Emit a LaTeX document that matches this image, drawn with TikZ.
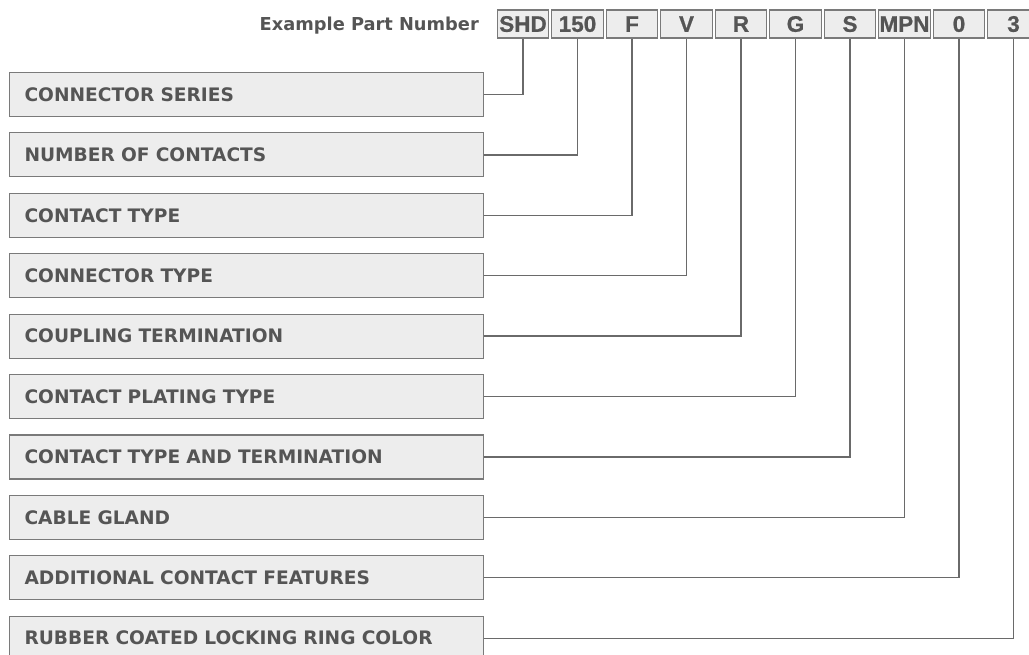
\documentclass[tikz,border=0pt]{standalone}
\usepackage{fontspec}
\setmainfont{DejaVu Sans}
\newfontfamily\codefont{Liberation Sans}[BoldFeatures={FakeBold=0.8}]
\definecolor{boxfill}{HTML}{EDEDED}
\definecolor{boxline}{HTML}{7A7A7A}
\definecolor{txt}{HTML}{555555}
\definecolor{wire}{HTML}{6A6A6A}
\tikzset{
  labelbox/.style={draw=boxline, line width=1.1pt, fill=boxfill, rectangle,
    minimum width=474pt, minimum height=44pt, text width=444pt, align=left,
    inner xsep=15pt, inner ysep=0pt, text height=13.5pt, text depth=0pt,
    font=\fontsize{18.6}{21}\selectfont\bfseries, text=txt, anchor=north west},
  codebox/.style={draw=boxline, line width=1.1pt, fill=boxfill, rectangle,
    minimum width=51.5pt, minimum height=28pt, inner sep=0pt,
    font=\codefont\fontsize{22.5}{24}\selectfont\bfseries, text=txt, anchor=north},
  wireline/.style={draw=wire, line width=1.3pt},
  header/.style={font=\fontsize{17.8}{20}\selectfont\bfseries, text=txt, anchor=base east, inner sep=0pt}
}
\begin{document}
\begin{tikzpicture}[x=1pt,y=-1pt]
\useasboundingbox (0,0) rectangle (1029,655);
\clip (0,0) rectangle (1029,655);
\fill[white] (0,0) rectangle (1029,655);
\node[header] (hdr) at (479,30.7) {Example Part Number};
% code boxes
\foreach \t [count=\i from 0] in {SHD,150,F,V,R,G,S,MPN,0,3} {
  \node[codebox] (T\i) at ({523+54.5*\i},9.5) {\t};
}
% label boxes
\foreach \t [count=\i from 0] in {CONNECTOR SERIES,NUMBER OF CONTACTS,CONTACT TYPE,CONNECTOR TYPE,COUPLING TERMINATION,CONTACT PLATING TYPE,CONTACT TYPE AND TERMINATION,CABLE GLAND,ADDITIONAL CONTACT FEATURES,RUBBER COATED LOCKING RING COLOR} {
  \node[labelbox] (L\i) at (9,{72+60.4*\i}) {\t};
}
\foreach \i in {0,...,9} {
  \draw[wireline] (L\i.east) -| (T\i.south);
}
\end{tikzpicture}
\end{document}
